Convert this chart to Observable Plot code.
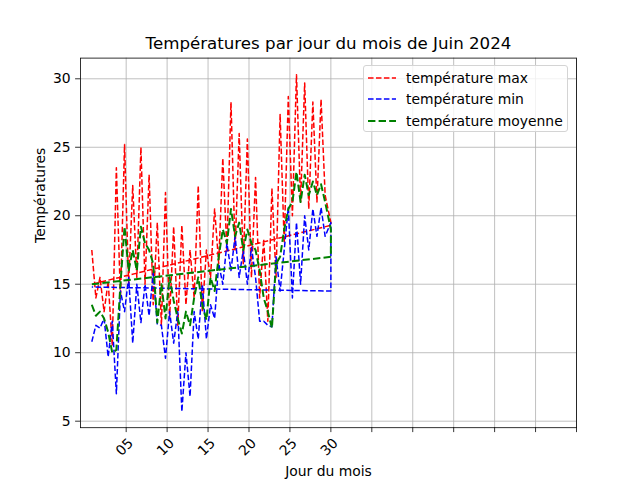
<!DOCTYPE html>
<html>
<head>
<meta charset="utf-8">
<script src="https://cdn.jsdelivr.net/npm/d3@7"></script>
<script src="https://cdn.jsdelivr.net/npm/@observablehq/plot@0.6"></script>
<style>
  body { margin: 0; background: white; }
  #wrap { position: relative; width: 640px; height: 480px; font-family: "DejaVu Sans", sans-serif; }
  #legend { position: absolute; left: 363px; top: 65px; width: 205px; height: 67px;
            border: 1px solid #d4d4d4; border-radius: 3px; background: rgba(255,255,255,0.8); box-sizing: border-box; }
  .row { position: absolute; left: 0; height: 20px; display: flex; align-items: center; }
  .row svg { margin-left: 4px; }
  .row span { margin-left: 10px; font-size: 13.9px; color: black; white-space: nowrap; }
</style>
</head>
<body>
<div id="wrap"></div>
<script>
const instants = [0.8,1.3,1.8,2.3,2.8,3.3,3.8,4.3,4.8,5.3,5.8,6.3,6.8,7.3,7.8,8.3,8.8,9.3,9.8,10.3,
  10.8,11.3,11.8,12.3,12.8,13.3,13.8,14.3,14.8,15.3,15.8,16.3,16.8,17.3,17.8,18.3,18.8,19.3,19.8,20.3,
  20.8,21.3,21.8,22.3,22.8,23.3,23.8,24.3,24.8,25.3,25.8,26.3,26.8,27.3,27.8,28.3,28.8,29.3,30];

const tempMax = [17.5,14,15.5,13,15.2,10.5,23.5,14,25.2,15,22.2,15.5,25,15,23,13.5,19.5,12,21.7,12.5,
  19.2,12,19.3,13.5,17.5,14,22.2,13,17.5,15.5,20.5,16.5,24.2,17.5,28.3,17.5,26,16.5,25.6,15.5,
  22.8,14,18.3,12.3,22,15.5,27.4,18,28.7,20,30.3,21,29.7,20.5,28.3,21,28.5,21.5,19.5];

const tempMin = [10.8,12,11.8,12.5,9.7,12.3,7.0,14.5,13,15.5,10.7,15,12.2,15,12.7,15.8,12.1,12,9.6,13,
  10.7,13,5.7,10,6.8,13,11,15,11,13.5,12.5,16.5,15,18,16,18.5,15.5,17.5,15,17.7,
  15.5,12.3,12.3,12.0,11.9,17,14.5,17.5,20.6,14,19.5,15,20,17.5,20.5,18.5,20.6,18.5,19.5];

const tempMoy = [13.5,12.7,13,12.5,11.5,10,10.2,15,19.2,16,17.5,16,19.2,18,17.5,16.5,12.2,15,12.5,15.5,
  13.8,12.5,11.4,13,12,14,15.5,13.5,12.4,15.5,14.5,17,19,18,20.5,18.5,19.5,17.5,19,18,
  17.5,16,14,13,11.8,16.5,17,19,20.5,21,23.2,21,23,21.5,22.5,21.5,22.3,21,19];

const tailInstants = [30, 0.8];
const tailMax = [19.3, 15];
const tailMin = [14.5, 14.8];
const tailMoy = [17, 15];

const xTicks = [5,10,15,20,25,30,35,40,45,50,55,60];
const xTickLabels = ["05","10","15","20","25","30","","","","","",""];
const yTicks = [5,10,15,20,25,30];

const seriesNames = ["température max", "température min", "température moyenne"];
const seriesColors = ["#ff0000", "#0000ff", "#008000"];
const seriesWidths = [1.5, 1.5, 2];
const seriesValues = [tempMax, tempMin, tempMoy];
const seriesTails = [tailMax, tailMin, tailMoy];

const rows = k => instants.map((t, i) => ({t, v: seriesValues[k][i]}))
  .concat(tailInstants.map((t, i) => ({t, v: seriesTails[k][i]})));

const dash = w => `${3.7*w},${1.6*w}`;

const lineMarks = seriesNames.map((n, k) => Plot.line(rows(k), {
  x: "t", y: "v", stroke: seriesColors[k], strokeWidth: seriesWidths[k],
  strokeDasharray: dash(seriesWidths[k]), strokeLinecap: "butt", strokeLinejoin: "round"
}));

const xLabelRows = xTicks.map((t, i) => ({t, label: xTickLabels[i]})).filter(d => d.label);

const chart = Plot.plot({
  width: 640, height: 480,
  marginLeft: 80, marginRight: 64, marginTop: 57.6, marginBottom: 52.8,
  style: {fontFamily: "DejaVu Sans", fontSize: "13.9px", color: "black", background: "white", overflow: "visible"},
  x: {domain: [-0.58, 60]},
  y: {domain: [4.525, 31.51]},
  marks: [
    Plot.gridX(xTicks, {stroke: "#b0b0b0", strokeOpacity: 1, strokeWidth: 0.8}),
    Plot.gridY(yTicks, {stroke: "#b0b0b0", strokeOpacity: 1, strokeWidth: 0.8}),
    ...lineMarks,
    Plot.frame({stroke: "black", strokeWidth: 0.8}),
    Plot.axisY({ticks: yTicks, tickSize: 4.9, tickPadding: 4.9, fontSize: 13.9, label: null, strokeWidth: 0.8}),
    Plot.axisX({ticks: xTicks, tickSize: 4.9, tickFormat: () => "", label: null, strokeWidth: 0.8}),
    Plot.text(xLabelRows, {x: "t", text: "label", frameAnchor: "bottom", rotate: -45, dy: 19.5, dx: -1.5,
      fontSize: 13.9, textAnchor: "middle", lineAnchor: "middle", fill: "black"}),
    Plot.text(["Jour du mois"], {frameAnchor: "bottom", dy: 43.5, fontSize: 13.9, fill: "black", lineAnchor: "middle"}),
    Plot.text(["Températures"], {frameAnchor: "left", rotate: -90, dx: -40, fontSize: 13.9, fill: "black", lineAnchor: "middle"}),
    Plot.text(["Températures par jour du mois de Juin 2024"], {frameAnchor: "top", dy: -14, fontSize: 16.67, fill: "black", lineAnchor: "middle"})
  ]
});

const wrap = document.getElementById("wrap");
wrap.appendChild(chart);

const legend = document.createElement("div");
legend.id = "legend";
const rowTops = [1.5, 23, 44.5];
seriesNames.forEach((n, k) => {
  const r = document.createElement("div");
  r.className = "row";
  r.style.top = rowTops[k] + "px";
  r.innerHTML = `<svg width="28" height="10"><line x1="0" y1="5" x2="28" y2="5" stroke="${seriesColors[k]}" stroke-width="${seriesWidths[k]}" stroke-dasharray="${dash(seriesWidths[k])}"/></svg><span>${n}</span>`;
  legend.appendChild(r);
});
wrap.appendChild(legend);
</script>
</body>
</html>
